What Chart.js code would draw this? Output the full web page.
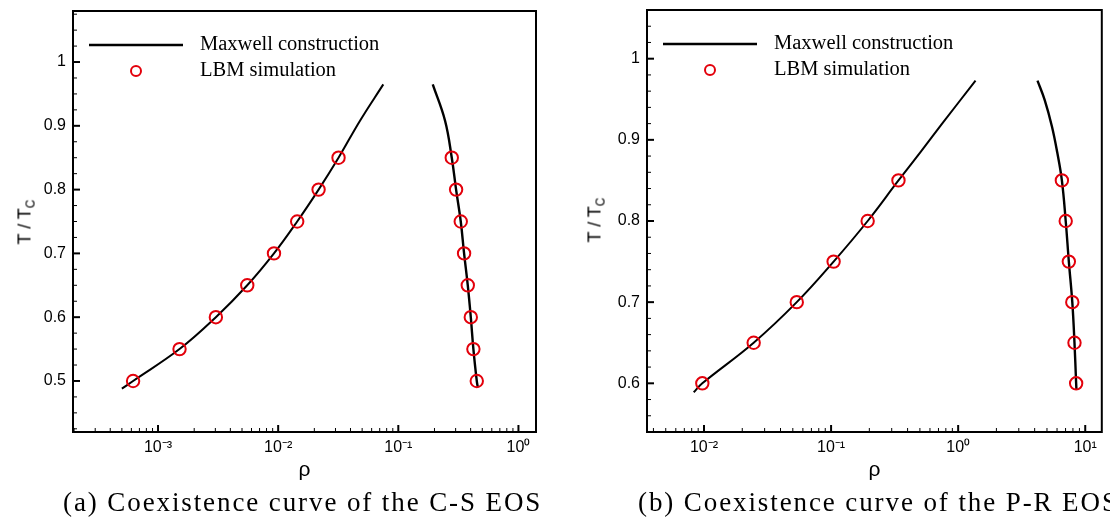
<!DOCTYPE html>
<html>
<head>
<meta charset="utf-8">
<script src="https://cdn.jsdelivr.net/npm/chart.js@4.4.1/dist/chart.umd.min.js"></script>
<style>
  html, body { margin: 0; padding: 0; background: #fff; }
  #page { position: relative; width: 1110px; height: 518px; overflow: hidden; }
  canvas { position: absolute; top: 0; }
  .ytitle {
    position: absolute;
    font-family: 'Liberation Sans', Arial, sans-serif;
    font-size: 18px;
    color: #000;
    white-space: nowrap;
    transform: translate(-50%, -50%) rotate(-90deg);
  }
  .ytitle sub { font-size: 12px; vertical-align: -4px; }
  .caption {
    position: absolute;
    top: 487px;
    font-family: 'Liberation Serif', 'Times New Roman', serif;
    font-size: 27px;
    letter-spacing: 1.9px;
    color: #000;
    white-space: nowrap;
  }
</style>
</head>
<body>
<div id="page">
  <canvas id="csChart" width="555" height="518" style="left:0"></canvas>
  <canvas id="prChart" width="555" height="518" style="left:555px"></canvas>
  <div class="ytitle" style="left:26px; top:222px">T / T<sub>C</sub></div>
  <div class="ytitle" style="left:596px; top:220px">T / T<sub>C</sub></div>
  <div class="caption" style="left:63px">(a) Coexistence curve of the C-S EOS</div>
  <div class="caption" style="left:638px">(b) Coexistence curve of the P-R EOS</div>
</div>
<script>
// ---- C-S EOS (left) ----
const csGasLineRho = [5.0e-4, 6.2e-4, 1.51e-3, 3.03e-3, 5.53e-3, 9.23e-3, 0.0144, 0.0217, 0.0318, 0.048, 0.075];
const csGasLineT   = [0.488, 0.5, 0.55, 0.6, 0.65, 0.7, 0.75, 0.8, 0.85, 0.908, 0.965];
const csLiqLineRho = [0.1935, 0.245, 0.2786, 0.3027, 0.331, 0.3528, 0.3787, 0.4012, 0.4217, 0.4499, 0.459];
const csLiqLineT   = [0.965, 0.908, 0.85, 0.8, 0.75, 0.7, 0.65, 0.6, 0.55, 0.5, 0.49];
const csSimT       = [0.5, 0.55, 0.6, 0.65, 0.7, 0.75, 0.8, 0.85];
const csSimGasRho  = [6.2e-4, 1.51e-3, 3.03e-3, 5.53e-3, 9.23e-3, 0.0144, 0.0217, 0.0318];
const csSimLiqRho  = [0.4499, 0.4217, 0.4012, 0.3787, 0.3528, 0.331, 0.3027, 0.2786];
const csXMajor = [1e-3, 1e-2, 1e-1, 1];
const csYMajor = [0.5, 0.6, 0.7, 0.8, 0.9, 1];

// ---- P-R EOS (right) ----
const prGasLineRho = [8.3e-3, 9.7e-3, 0.0246, 0.0537, 0.1047, 0.194, 0.339, 0.5, 0.74, 1.37];
const prGasLineT   = [0.589, 0.6, 0.65, 0.7, 0.75, 0.8, 0.85, 0.884, 0.919, 0.973];
const prLiqLineRho = [4.21, 4.80, 5.47, 6.03, 6.55, 7.02, 7.43, 7.91, 8.23, 8.48, 8.53];
const prLiqLineT   = [0.973, 0.949, 0.9165, 0.884, 0.85, 0.8, 0.75, 0.7, 0.65, 0.6, 0.592];
const prSimT       = [0.6, 0.65, 0.7, 0.75, 0.8, 0.85];
const prSimGasRho  = [9.7e-3, 0.0246, 0.0537, 0.1047, 0.194, 0.339];
const prSimLiqRho  = [8.48, 8.23, 7.91, 7.43, 7.02, 6.55];
const prXMajor = [1e-2, 1e-1, 1, 10];
const prYMajor = [0.6, 0.7, 0.8, 0.9, 1];

const legendLabels = ['Maxwell construction', 'LBM simulation'];

const tickFont = { family: "'Liberation Sans', Arial, sans-serif", size: 16 };
const supDigits = { '-': '\u207B', '0': '\u2070', '1': '\u00B9', '2': '\u00B2', '3': '\u00B3' };

function pts(xs, ys) {
    return xs.map((x, i) => ({ x: x, y: ys[i] }));
}

function near(list, v) {
    return list.some(m => Math.abs(m - v) < 1e-9 * Math.max(1, Math.abs(m)));
}

// ticks 1..9 inside each decade, clipped to the axis range
function logTicks(min, max) {
    const out = [];
    let d = Math.pow(10, Math.floor(Math.log10(min)));
    while (d <= max) {
        for (let k = 1; k < 10; k++) {
            const v = +(k * d).toPrecision(6);
            if (v >= min && v <= max) out.push(v);
        }
        d *= 10;
    }
    return out;
}

function linTicks(min, max, step) {
    const out = [];
    for (let v = Math.ceil(min / step) * step; v <= max + 1e-9; v += step) {
        out.push(+v.toFixed(4));
    }
    return out;
}

// frame, inward tick marks and the legend box
const framePlugin = {
    id: 'frame',
    afterDraw(chart, args, opts) {
        const ctx = chart.ctx;
        const a = chart.chartArea;
        const xs = chart.scales.x, ys = chart.scales.y;
        ctx.save();
        ctx.strokeStyle = '#000';

        xs.ticks.forEach(t => {
            const px = xs.getPixelForValue(t.value);
            if (px < a.left + 1 || px > a.right - 1) return;
            const major = near(opts.xMajor, t.value);
            ctx.lineWidth = major ? 2 : 1;
            ctx.beginPath();
            ctx.moveTo(px, a.bottom);
            ctx.lineTo(px, a.bottom - (major ? 7 : 4));
            ctx.stroke();
        });
        ys.ticks.forEach(t => {
            const py = ys.getPixelForValue(t.value);
            if (py < a.top + 1 || py > a.bottom - 1) return;
            const major = near(opts.yMajor, t.value);
            ctx.lineWidth = major ? 2 : 1;
            ctx.beginPath();
            ctx.moveTo(a.left, py);
            ctx.lineTo(a.left + (major ? 7 : 4), py);
            ctx.stroke();
        });

        ctx.lineWidth = 2;
        ctx.strokeRect(a.left, a.top, a.right - a.left, a.bottom - a.top);

        // legend
        const lineDs = chart.data.datasets[0];
        const simDs = chart.data.datasets[2];
        const y1 = a.top + 34, y2 = a.top + 60;
        ctx.strokeStyle = lineDs.borderColor;
        ctx.lineWidth = 2.5;
        ctx.beginPath();
        ctx.moveTo(a.left + 16, y1);
        ctx.lineTo(a.left + 110, y1);
        ctx.stroke();
        ctx.strokeStyle = simDs.borderColor;
        ctx.lineWidth = simDs.borderWidth;
        ctx.beginPath();
        ctx.arc(a.left + 63, y2, 5, 0, Math.PI * 2);
        ctx.stroke();
        ctx.fillStyle = '#000';
        ctx.font = "20.5px 'Liberation Serif', 'Times New Roman', serif";
        ctx.textBaseline = 'middle';
        ctx.fillText(legendLabels[0], a.left + 127, y1);
        ctx.fillText(legendLabels[1], a.left + 127, y2);
        ctx.restore();
    }
};

function makeChart(id, d) {
    const xTicks = logTicks(d.xMin, d.xMax);
    const yTicks = linTicks(d.yMin, d.yMax, d.yStep);
    return new Chart(document.getElementById(id), {
        type: 'scatter',
        data: {
            datasets: [
                {
                    label: legendLabels[0],
                    data: pts(d.gasRho, d.gasT),
                    showLine: true,
                    borderColor: '#000',
                    borderWidth: 2,
                    pointRadius: 0,
                    tension: 0.4,
                    order: 2
                },
                {
                    label: legendLabels[0],
                    data: pts(d.liqRho, d.liqT),
                    showLine: true,
                    borderColor: '#000',
                    borderWidth: 2.4,
                    pointRadius: 0,
                    tension: 0.4,
                    order: 2
                },
                {
                    label: legendLabels[1],
                    data: pts(d.simGas, d.simT).concat(pts(d.simLiq, d.simT)),
                    showLine: false,
                    pointStyle: 'circle',
                    pointRadius: 6.2,
                    borderWidth: 2,
                    borderColor: '#e3000b',
                    backgroundColor: 'rgba(0,0,0,0)',
                    order: 1
                }
            ]
        },
        options: {
            responsive: false,
            animation: false,
            devicePixelRatio: 1,
            layout: { padding: { left: 0, right: d.padRight, top: d.padTop, bottom: 0 } },
            plugins: {
                legend: { display: false },
                tooltip: { enabled: false },
                frame: { xMajor: d.xMajor, yMajor: d.yMajor }
            },
            scales: {
                x: {
                    type: 'logarithmic',
                    min: d.xMin,
                    max: d.xMax,
                    grid: { display: false, drawTicks: false },
                    border: { display: false },
                    afterBuildTicks: s => { s.ticks = xTicks.map(v => ({ value: v })); },
                    afterFit: s => { s.height = 86; s.paddingLeft = 0; s.paddingRight = 0; },
                    ticks: {
                        autoSkip: false,
                        maxRotation: 0,
                        padding: 6,
                        color: '#000',
                        font: tickFont,
                        callback: v => {
                            if (!near(d.xMajor, v)) return '';
                            const e = String(Math.round(Math.log10(v)));
                            return '10' + e.split('').map(c => supDigits[c]).join('');
                        }
                    },
                    title: {
                        display: true,
                        text: '\u03C1',
                        color: '#000',
                        font: { family: "'Liberation Sans', Arial, sans-serif", size: 21 },
                        padding: { top: 0, bottom: 35 }
                    }
                },
                y: {
                    min: d.yMin,
                    max: d.yMax,
                    grid: { display: false, drawTicks: false },
                    border: { display: false },
                    afterBuildTicks: s => { s.ticks = yTicks.map(v => ({ value: v })); },
                    afterFit: s => { s.width = d.yWidth; s.paddingTop = 0; s.paddingBottom = 0; },
                    ticks: {
                        autoSkip: false,
                        padding: 7,
                        color: '#000',
                        font: tickFont,
                        callback: v => near(d.yMajor, v) ? String(v) : ''
                    }
                }
            }
        },
        plugins: [framePlugin]
    });
}

makeChart('csChart', {
    gasRho: csGasLineRho, gasT: csGasLineT, liqRho: csLiqLineRho, liqT: csLiqLineT,
    simT: csSimT, simGas: csSimGasRho, simLiq: csSimLiqRho,
    xMajor: csXMajor, yMajor: csYMajor,
    xMin: 1.96e-4, xMax: 1.4, yMin: 0.42, yMax: 1.08, yStep: 0.025,
    yWidth: 73, padRight: 19, padTop: 11
});

makeChart('prChart', {
    gasRho: prGasLineRho, gasT: prGasLineT, liqRho: prLiqLineRho, liqT: prLiqLineT,
    simT: prSimT, simGas: prSimGasRho, simLiq: prSimLiqRho,
    xMajor: prXMajor, yMajor: prYMajor,
    xMin: 3.56e-3, xMax: 13.5, yMin: 0.54, yMax: 1.06, yStep: 0.02,
    yWidth: 92, padRight: 2, padTop: 10
});
</script>
</body>
</html>
